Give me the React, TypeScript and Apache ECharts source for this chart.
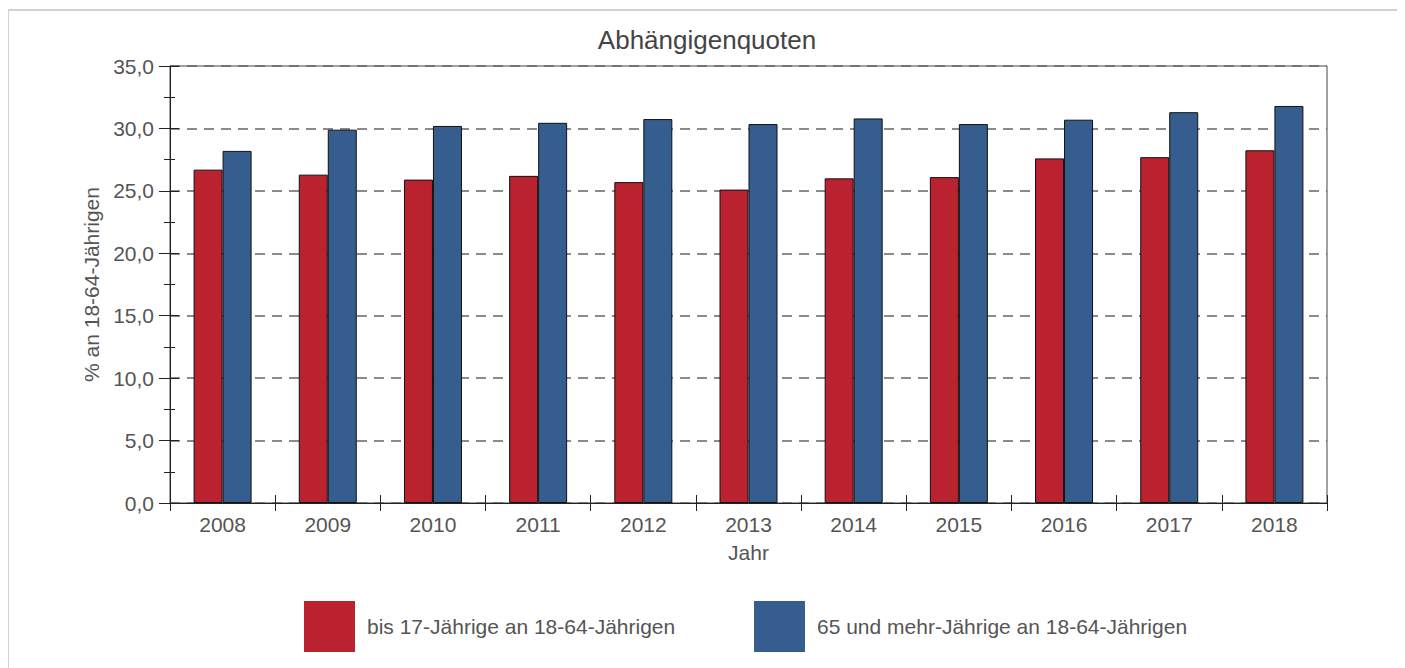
import React, { useEffect, useRef } from "react";
import * as echarts from "echarts";

const years = ["2008", "2009", "2010", "2011", "2012", "2013", "2014", "2015", "2016", "2017", "2018"];
const youngRatio = [26.7, 26.3, 25.9, 26.2, 25.7, 25.1, 26.0, 26.1, 27.6, 27.7, 28.25];
const oldRatio = [28.2, 29.9, 30.2, 30.45, 30.75, 30.35, 30.8, 30.35, 30.7, 31.3, 31.8];
const seriesNames = ["bis 17-Jährige an 18-64-Jährigen", "65 und mehr-Jährige an 18-64-Jährigen"];

const RED = "#BA2230";
const BLUE = "#355E8E";
const TXT = "#555555";
const AX = "#222222";
const FONT = "Liberation Sans, Arial, sans-serif";

export default function App() {
  const ref = useRef<HTMLDivElement>(null);
  useEffect(() => {
    if (!ref.current) return;
    const chart = echarts.init(ref.current, undefined, { renderer: "svg" });
    const fmt = (v: number) => v.toFixed(1).replace(".", ",");
    const legendBase = {
      top: 593,
      padding: 0,
      itemWidth: 51,
      itemHeight: 51,
      icon: "rect",
      itemStyle: { borderWidth: 0 },
      textStyle: { fontSize: 21, color: TXT, padding: [0, 0, 0, 7], fontFamily: FONT },
    };
    chart.setOption({
      animation: false,
      textStyle: { fontFamily: FONT },
      title: {
        text: "Abhängigenquoten",
        left: 699,
        top: 19,
        textAlign: "center",
        padding: 0,
        textStyle: { fontSize: 26, fontWeight: "normal", color: "#444444", fontFamily: FONT },
      },
      graphic: [
        {
          type: "rect",
          shape: { x: 0, y: 2, width: 1394, height: 720 },
          style: { fill: "none", stroke: "#d2d2d2", lineWidth: 2 },
          silent: true,
        },
      ],
      legend: [
        { ...legendBase, data: [seriesNames[0]], left: 296 },
        { ...legendBase, data: [seriesNames[1]], left: 746 },
      ],
      grid: { left: 162, top: 58, width: 1157, height: 437, show: true, borderColor: "#444", borderWidth: 1, containLabel: false },
      xAxis: [
        {
          type: "category",
          data: years,
          position: "bottom",
          name: "Jahr",
          nameLocation: "middle",
          nameGap: 39,
          nameTextStyle: { fontSize: 21, color: TXT, verticalAlign: "top" },
          axisLine: { show: true, lineStyle: { color: AX, width: 1 } },
          axisTick: { show: true, inside: false, length: 8, alignWithLabel: false, lineStyle: { color: AX } },
          axisLabel: { fontSize: 21, color: TXT, margin: 11 },
          splitLine: { show: false },
        },
        {
          type: "category",
          data: years,
          position: "bottom",
          axisLine: { show: false },
          axisTick: { show: true, inside: true, length: 8, alignWithLabel: false, lineStyle: { color: AX } },
          axisLabel: { show: false },
          splitLine: { show: false },
        },
      ],
      yAxis: [
        {
          type: "value",
          min: 0,
          max: 35,
          interval: 5,
          position: "left",
          name: "% an 18-64-Jährigen",
          nameLocation: "middle",
          nameRotate: 90,
          nameGap: 66,
          nameTextStyle: { fontSize: 21, color: TXT },
          axisLine: { show: true, lineStyle: { color: AX, width: 1 } },
          axisTick: { show: true, inside: false, length: 11, lineStyle: { color: AX } },
          minorTick: { show: true, splitNumber: 2, length: 6, lineStyle: { color: AX } },
          axisLabel: { fontSize: 21, color: TXT, margin: 16, formatter: fmt },
          splitLine: { show: true, lineStyle: { color: "#666", type: [10, 7], width: 1.5 } },
        },
        {
          type: "value",
          min: 0,
          max: 35,
          interval: 5,
          position: "left",
          axisLine: { show: false },
          axisTick: { show: true, inside: true, length: 9, lineStyle: { color: AX } },
          minorTick: { show: true, splitNumber: 2, length: 5, lineStyle: { color: AX } },
          axisLabel: { show: false },
          splitLine: { show: false },
        },
      ],
      series: [
        {
          name: seriesNames[0],
          type: "bar",
          data: youngRatio,
          barWidth: 29,
          barGap: "0%",
          itemStyle: { color: RED, borderColor: "#111", borderWidth: 1 },
        },
        {
          name: seriesNames[1],
          type: "bar",
          data: oldRatio,
          barWidth: 29,
          barGap: "0%",
          itemStyle: { color: BLUE, borderColor: "#111", borderWidth: 1 },
        },
      ],
    });
    return () => chart.dispose();
  }, []);
  return <div ref={ref} style={{ width: 1397, height: 660 }} />;
}
